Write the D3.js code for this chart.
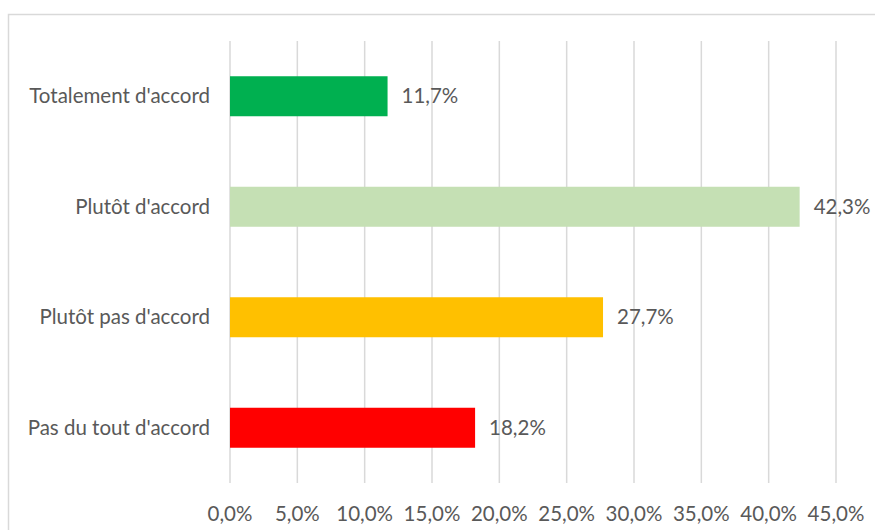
<!DOCTYPE html>
<html>
<head>
<meta charset="utf-8">
<script src="https://cdn.jsdelivr.net/npm/d3@7"></script>
<style>
  body { margin: 0; background: #fff; }
  text { font-family: Lato, "Open Sans", sans-serif; fill: #595959; }
</style>
</head>
<body>
<div id="chart"></div>
<script>
const categories = ["Totalement d'accord", "Plutôt d'accord", "Plutôt pas d'accord", "Pas du tout d'accord"];
const values = [11.7, 42.3, 27.7, 18.2];
const colors = ["#00B050", "#C5E0B4", "#FFC000", "#FF0000"];
const ticks = [0, 5, 10, 15, 20, 25, 30, 35, 40, 45];

const width = 875;
const height = 530;
const margin = { top: 41, right: 39, bottom: 47, left: 230 };
const fontSize = "20.5px";

const fmt = v => d3.format(".1f")(v).replace(".", ",") + "%";

const svg = d3.select("#chart")
  .append("svg")
  .attr("width", width)
  .attr("height", height);

// chart frame
svg.append("rect")
  .attr("x", 8.5)
  .attr("y", 14.5)
  .attr("width", 880)
  .attr("height", 540)
  .attr("fill", "none")
  .attr("stroke", "#d9d9d9")
  .attr("stroke-width", 1.5);

const x = d3.scaleLinear()
  .domain([0, 45])
  .range([margin.left, width - margin.right]);

const y = d3.scaleBand()
  .domain(categories)
  .range([margin.top, height - margin.bottom])
  .paddingInner(0.638)
  .paddingOuter(0.319);

// gridlines
svg.append("g")
  .selectAll("line")
  .data(ticks)
  .enter()
  .append("line")
  .attr("x1", d => x(d))
  .attr("x2", d => x(d))
  .attr("y1", margin.top)
  .attr("y2", height - margin.bottom)
  .attr("stroke", "#d9d9d9")
  .attr("stroke-width", 1.5);

// x tick labels
svg.append("g")
  .selectAll("text")
  .data(ticks)
  .enter()
  .append("text")
  .attr("x", d => x(d))
  .attr("y", 521)
  .attr("text-anchor", "middle")
  .style("font-size", fontSize)
  .text(d => fmt(d));

// category labels
svg.append("g")
  .selectAll("text")
  .data(categories)
  .enter()
  .append("text")
  .attr("x", 210)
  .attr("y", d => y(d) + y.bandwidth() / 2)
  .attr("dy", "0.35em")
  .attr("text-anchor", "end")
  .style("font-size", fontSize)
  .text(d => d);

// bars
svg.append("g")
  .selectAll("rect")
  .data(values)
  .enter()
  .append("rect")
  .attr("x", x(0))
  .attr("y", (d, i) => y(categories[i]))
  .attr("width", d => x(d) - x(0))
  .attr("height", y.bandwidth())
  .attr("fill", (d, i) => colors[i]);

// value labels
svg.append("g")
  .selectAll("text")
  .data(values)
  .enter()
  .append("text")
  .attr("x", d => x(d) + 14)
  .attr("y", (d, i) => y(categories[i]) + y.bandwidth() / 2)
  .attr("dy", "0.35em")
  .style("font-size", fontSize)
  .text(d => fmt(d));
</script>
</body>
</html>
